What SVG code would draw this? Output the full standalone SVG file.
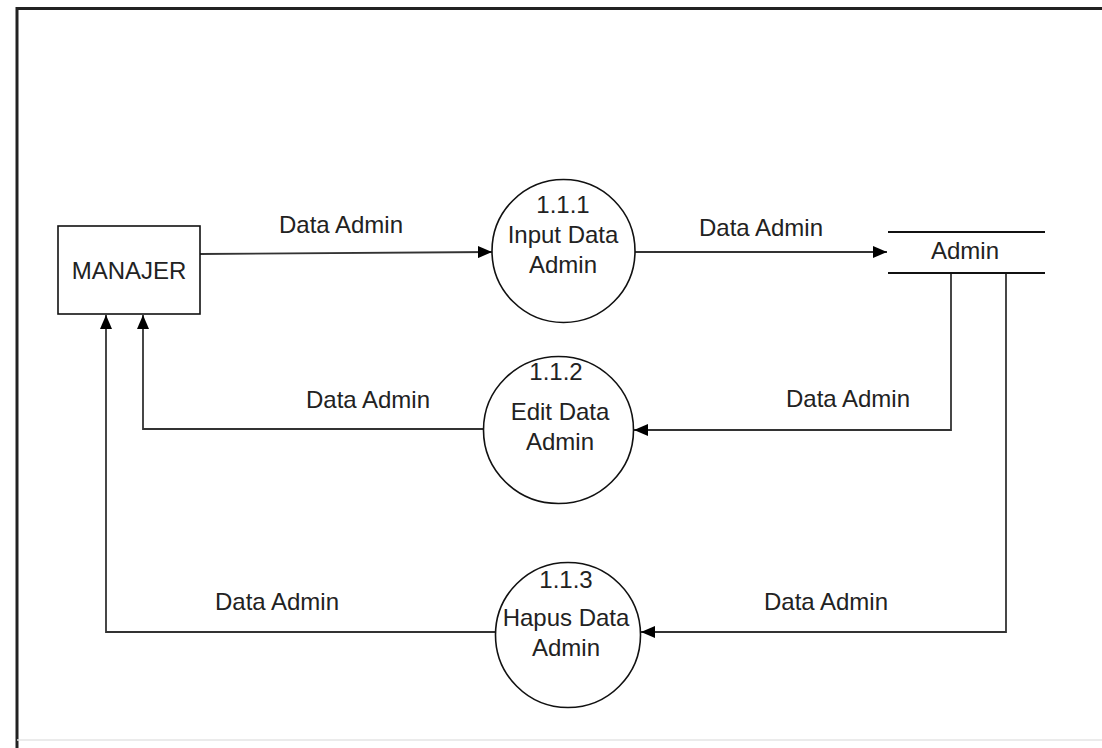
<svg xmlns="http://www.w3.org/2000/svg" width="1102" height="748" viewBox="0 0 1102 748">
<style>
  text { font-family: "Liberation Sans", Arial, sans-serif; font-size: 24px; fill: #222; text-anchor: middle; }
  .shape { fill: #fff; stroke: #111; stroke-width: 1.6; }
  .flow { fill: none; stroke: #333; stroke-width: 1.8; }
  .store { stroke: #111; stroke-width: 2; }
</style>
<defs>
  <marker id="arr" viewBox="0 0 14 12" refX="14" refY="6" markerWidth="14" markerHeight="12" markerUnits="userSpaceOnUse" orient="auto">
    <path d="M0,0 L14,6 L0,12 Z" fill="#000"/>
  </marker>
</defs>
<rect width="1102" height="748" fill="#fff"/>
<g id="frame">
  <line x1="17" y1="8.5" x2="1102" y2="8.5" stroke="#222" stroke-width="3"/>
  <line x1="17" y1="7" x2="17" y2="748" stroke="#222" stroke-width="3"/>
  <line x1="17" y1="740" x2="1102" y2="740" stroke="#e4e4e4" stroke-width="1.5"/>
</g>
<g id="connectors">
  <path class="flow" d="M200,254 L492,252" marker-end="url(#arr)"/>
  <path class="flow" d="M635,252 L887,252" marker-end="url(#arr)"/>
  <path class="flow" d="M951,273 L951,430 L634,430" marker-end="url(#arr)"/>
  <path class="flow" d="M1006,273 L1006,632 L641,632" marker-end="url(#arr)"/>
  <path class="flow" d="M484,429 L143,429 L143,315" marker-end="url(#arr)"/>
  <path class="flow" d="M496,632 L106,632 L106,315" marker-end="url(#arr)"/>
  <text x="341" y="233">Data Admin</text>
  <text x="761" y="236">Data Admin</text>
  <text x="368" y="408">Data Admin</text>
  <text x="848" y="407">Data Admin</text>
  <text x="277" y="610">Data Admin</text>
  <text x="826" y="610">Data Admin</text>
</g>
<g id="manajer">
  <rect class="shape" x="58" y="226" width="142" height="88"/>
  <text x="129" y="279">MANAJER</text>
</g>
<g id="p111">
  <circle class="shape" cx="563.5" cy="251" r="71.5"/>
  <text x="563" y="213">1.1.1</text>
  <text x="563" y="243">Input Data</text>
  <text x="563" y="273">Admin</text>
</g>
<g id="p112">
  <ellipse class="shape" cx="558.5" cy="430" rx="75" ry="73.5"/>
  <text x="556" y="380">1.1.2</text>
  <text x="560" y="420">Edit Data</text>
  <text x="560" y="450">Admin</text>
</g>
<g id="p113">
  <circle class="shape" cx="568" cy="635" r="72.5"/>
  <text x="566" y="588">1.1.3</text>
  <text x="566" y="626">Hapus Data</text>
  <text x="566" y="656">Admin</text>
</g>
<g id="admin-store">
  <line class="store" x1="888" y1="232" x2="1045" y2="232"/>
  <line class="store" x1="888" y1="273" x2="1045" y2="273"/>
  <text x="965" y="259">Admin</text>
</g>
</svg>
